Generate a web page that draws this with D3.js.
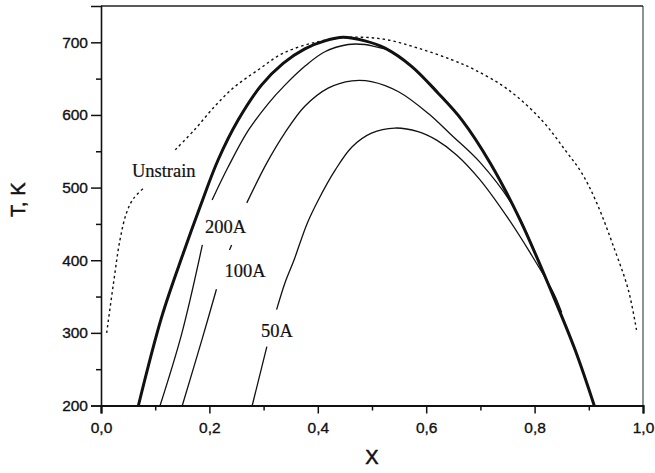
<!DOCTYPE html>
<html>
<head>
<meta charset="utf-8">
<script src="https://cdn.jsdelivr.net/npm/d3@7"></script>
<style>
  body { margin: 0; background: #fff; }
  .tick text { font-family: "Liberation Sans", Arial, sans-serif; font-size: 15.5px; fill: #111; stroke: #111; stroke-width: 0.35px; }
  .curve { fill: none; stroke: #111; }
  .label { font-family: "Liberation Serif", "Times New Roman", serif; font-size: 18.5px; fill: #111; stroke: #111; stroke-width: 0.2px; }
  .title { font-family: "Liberation Sans", Arial, sans-serif; font-size: 20px; fill: #111; stroke: #111; stroke-width: 0.5px; }
</style>
</head>
<body>
<div id="chart"></div>
<script>
// Curves: [x, T] pairs, null = break in the line
const bulkCurve = [
  [0.069, 200], [0.112, 322], [0.152, 410], [0.183, 474], [0.216, 538],
  [0.253, 593], [0.296, 641], [0.336, 671], [0.376, 691], [0.413, 702],
  [0.447, 707], [0.487, 702], [0.524, 692], [0.573, 667], [0.622, 630],
  [0.666, 593], [0.718, 534], [0.773, 456], [0.832, 355], [0.875, 276],
  [0.910, 200]
];
const curve200 = [
  [0.109, 200], [0.149, 299], [0.187, 421], null,
  [0.205, 483], [0.235, 529], [0.272, 579], [0.309, 616], [0.338, 640],
  [0.376, 667], [0.413, 687], [0.456, 697], [0.487, 697], [0.506, 694],
  [0.524, 691]
];
const curve100 = [
  [0.150, 200], [0.186, 290], [0.213, 360], null,
  [0.237, 414], [0.241, 421], null,
  [0.269, 479], [0.306, 534], [0.339, 575], [0.376, 612], [0.419, 637],
  [0.463, 647], [0.499, 646], [0.549, 632], [0.604, 602], [0.647, 572],
  [0.699, 535], [0.761, 474], [0.790, 430], [0.805, 402]
];
const curve50 = [
  [0.279, 200], [0.306, 281], null,
  [0.324, 332], [0.340, 370], [0.356, 400], [0.380, 450], [0.401, 483],
  [0.432, 524], [0.463, 556], [0.499, 575], [0.542, 582], [0.585, 577],
  [0.620, 565], [0.656, 545], [0.699, 511], [0.749, 460], [0.792, 410],
  [0.835, 355], [0.850, 328]
];
const unstrainCurve = [
  [0.0105, 300], [0.023, 368], [0.035, 428], [0.047, 465], [0.060, 485],
  [0.078, 499], null,
  [0.137, 552], [0.173, 580], [0.210, 612], [0.247, 639], [0.290, 662],
  [0.336, 685], [0.401, 701], [0.463, 707], [0.524, 704], [0.585, 692],
  [0.647, 676], [0.690, 662], [0.751, 635], [0.813, 593], [0.856, 552],
  [0.887, 520], [0.914, 480], [0.948, 414], [0.973, 359], [0.988, 304]
];

const curveLabels = [
  {text: "Unstrain", x: 0.057, T: 515},
  {text: "200A", x: 0.192, T: 437},
  {text: "100A", x: 0.228, T: 377},
  {text: "50A", x: 0.295, T: 294}
];

const xMajor = [0, 0.2, 0.4, 0.6, 0.8, 1.0];
const xMinor = [0.1, 0.3, 0.5, 0.7, 0.9];
const yMajor = [200, 300, 400, 500, 600, 700];
const yMinor = [250, 350, 450, 550, 650];

const margin = {top: 6, right: 12, bottom: 67.5, left: 101};
const width = 655 - margin.left - margin.right;
const height = 473 - margin.top - margin.bottom;

const svg = d3.select("#chart")
    .append("svg")
    .attr("width", 655)
    .attr("height", 473)
    .append("g")
    .attr("transform", `translate(${margin.left},${margin.top})`);

const xScale = d3.scaleLinear().domain([0, 1]).range([0, width]);
const yScale = d3.scaleLinear().domain([200, 750]).range([height, 0]);

const line = d3.line()
    .defined(d => d !== null)
    .x(d => xScale(d[0]))
    .y(d => yScale(d[1]))
    .curve(d3.curveCatmullRom.alpha(0.5));

// frame (top and right)
svg.append("line")
    .attr("x1", 0).attr("x2", width).attr("y1", 0).attr("y2", 0)
    .attr("stroke", "#222").attr("stroke-width", 1.4);
svg.append("line")
    .attr("x1", width).attr("x2", width).attr("y1", 0).attr("y2", height)
    .attr("stroke", "#222").attr("stroke-width", 1);

// curves
svg.append("path").datum(unstrainCurve).attr("class", "curve")
    .attr("stroke-width", 1.4).attr("stroke-dasharray", "2.5,3").attr("d", line);
svg.append("path").datum(curve50).attr("class", "curve")
    .attr("stroke-width", 1.3).attr("d", line);
svg.append("path").datum(curve100).attr("class", "curve")
    .attr("stroke-width", 1.3).attr("d", line);
svg.append("path").datum(curve200).attr("class", "curve")
    .attr("stroke-width", 1.3).attr("d", line);
svg.append("path").datum(bulkCurve).attr("class", "curve")
    .attr("stroke-width", 3).attr("d", line);

// labels
svg.selectAll(".label")
    .data(curveLabels)
    .enter()
    .append("text")
    .attr("class", "label")
    .attr("x", d => xScale(d.x))
    .attr("y", d => yScale(d.T))
    .text(d => d.text);

const comma = d => d3.format(".1f")(d).replace(".", ",");

// X axis
const xAxis = svg.append("g")
    .attr("transform", `translate(0,${height})`)
    .call(d3.axisBottom(xScale).tickValues(xMajor).tickFormat(comma)
        .tickSize(8).tickPadding(8));
svg.append("g")
    .attr("transform", `translate(0,${height})`)
    .call(d3.axisBottom(xScale).tickValues(xMinor).tickFormat("").tickSize(5))
    .select(".domain").remove();
xAxis.select(".domain").attr("stroke-width", 2.2);

// Y axis
const yAxis = svg.append("g")
    .call(d3.axisLeft(yScale).tickValues(yMajor).tickSize(10).tickPadding(3));
svg.append("g")
    .call(d3.axisLeft(yScale).tickValues(yMinor).tickFormat("").tickSize(5))
    .select(".domain").remove();
yAxis.select(".domain").attr("stroke-width", 1.6);

svg.selectAll(".tick line").attr("stroke-width", 1.5).attr("stroke", "#111");
svg.selectAll(".domain").attr("stroke", "#111");

// axis titles
svg.append("text")
    .attr("class", "title")
    .attr("transform", "rotate(-90)")
    .attr("x", -(yScale(200) + yScale(750)) / 2 + 6)
    .attr("y", 18 - margin.left + 7)
    .attr("text-anchor", "middle")
    .text("T, K");

svg.append("text")
    .attr("class", "title")
    .attr("x", width / 2)
    .attr("y", height + 58)
    .attr("text-anchor", "middle")
    .text("X");
</script>
</body>
</html>
